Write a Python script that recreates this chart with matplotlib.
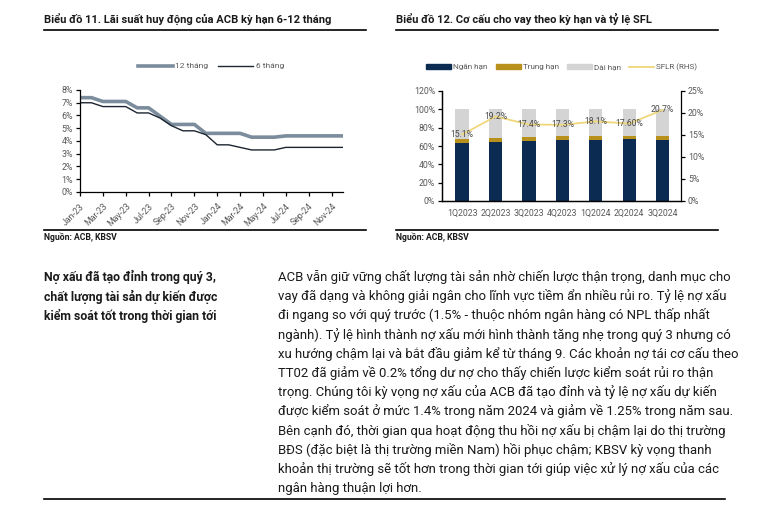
import matplotlib
matplotlib.use('Agg')
import matplotlib.pyplot as plt
from matplotlib.lines import Line2D
from matplotlib.patches import Patch

plt.rcParams['font.family'] = ['Roboto', 'DejaVu Sans']

W, H = 759, 507

# ---- data: chart 11 (monthly deposit rates, %)
months = ['Jan-23', 'Feb-23', 'Mar-23', 'Apr-23', 'May-23', 'Jun-23', 'Jul-23', 'Aug-23',
          'Sep-23', 'Oct-23', 'Nov-23', 'Dec-23', 'Jan-24', 'Feb-24', 'Mar-24', 'Apr-24',
          'May-24', 'Jun-24', 'Jul-24', 'Aug-24', 'Sep-24', 'Oct-24', 'Nov-24', 'Dec-24']
rate_12m = [7.4, 7.4, 7.1, 7.1, 7.1, 6.6, 6.6, 5.95, 5.3, 5.3, 5.3, 4.6,
            4.6, 4.6, 4.6, 4.3, 4.3, 4.3, 4.4, 4.4, 4.4, 4.4, 4.4, 4.4]
rate_6m = [7.0, 7.0, 6.7, 6.7, 6.7, 6.2, 6.2, 5.8, 5.2, 4.8, 4.8, 4.5,
           3.7, 3.7, 3.5, 3.3, 3.3, 3.3, 3.5, 3.5, 3.5, 3.5, 3.5, 3.5]

# ---- data: chart 12 (loan structure by term, % and SFLR)
quarters = ['1Q2023', '2Q2023', '3Q2023', '4Q2023', '1Q2024', '2Q2024', '3Q2024']
short_term = [63.5, 64.5, 65.0, 67.0, 67.0, 68.0, 67.0]
mid_term = [4.0, 4.5, 4.5, 3.5, 3.5, 3.3, 3.5]
long_term = [100 - s - m for s, m in zip(short_term, mid_term)]
sflr = [15.1, 19.2, 17.4, 17.3, 18.1, 17.6, 20.7]
sflr_labels = ['15.1%', '19.2%', '17.4%', '17.3%', '18.1%', '17.60%', '20.7%']

# ---- text
title11 = 'Biểu đồ 11. Lãi suất huy động của ACB kỳ hạn 6-12 tháng'
title12 = 'Biểu đồ 12. Cơ cấu cho vay theo kỳ hạn và tỷ lệ SFL'
source = 'Nguồn: ACB, KBSV'
heading = ['Nợ xấu đã tạo đỉnh trong quý 3,',
           'chất lượng tài sản dự kiến được',
           'kiểm soát tốt trong thời gian tới']
paragraph = [
    'ACB vẫn giữ vững chất lượng tài sản nhờ chiến lược thận trọng, danh mục cho',
    'vay đã dạng và không giải ngân cho lĩnh vực tiềm ẩn nhiều rủi ro. Tỷ lệ nợ xấu',
    'đi ngang so với quý trước (1.5% - thuộc nhóm ngân hàng có NPL thấp nhất',
    'ngành). Tỷ lệ hình thành nợ xấu mới hình thành tăng nhẹ trong quý 3 nhưng có',
    'xu hướng chậm lại và bắt đầu giảm kể từ tháng 9. Các khoản nợ tái cơ cấu theo',
    'TT02 đã giảm về 0.2% tổng dư nợ cho thấy chiến lược kiểm soát rủi ro thận',
    'trọng. Chúng tôi kỳ vọng nợ xấu của ACB đã tạo đỉnh và tỷ lệ nợ xấu dự kiến',
    'được kiểm soát ở mức 1.4% trong năm 2024 và giảm về 1.25% trong năm sau.',
    'Bên cạnh đó, thời gian qua hoạt động thu hồi nợ xấu bị chậm lại do thị trường',
    'BĐS (đặc biệt là thị trường miền Nam) hồi phục chậm; KBSV kỳ vọng thanh',
    'khoản thị trường sẽ tốt hơn trong thời gian tới giúp việc xử lý nợ xấu của các',
    'ngân hàng thuận lợi hơn.',
]

TICK = '#595959'
TXT = '#1a1a1a'


def fx(px):
    return px / W


def fy(py):
    return 1 - py / H


def hrule(fig, x0, x1, y, lw=1.2):
    fig.add_artist(Line2D([fx(x0), fx(x1)], [fy(y), fy(y)], transform=fig.transFigure,
                          color='black', lw=lw))


def axes_px(fig, left, top, right, bottom):
    return fig.add_axes([fx(left), fy(bottom), fx(right - left), (bottom - top) / H])


def fit(texts, ref, width_px):
    # shrink a group of texts so that the reference one spans width_px
    r = fig.canvas.get_renderer()
    w = ref.get_window_extent(r).width
    k = width_px / w
    for t in texts:
        t.set_fontsize(t.get_fontsize() * k)


fig = plt.figure(figsize=(W / 100, H / 100), dpi=100)
fig.patch.set_facecolor('white')

# ---- headers and rules
t11 = fig.text(fx(44), fy(19), title11, fontsize=10, fontweight='bold', color=TXT, va='center')
t12 = fig.text(fx(396), fy(19), title12, fontsize=10, fontweight='bold', color=TXT, va='center')
fit([t11], t11, 289)
fit([t12], t12, 256)
hrule(fig, 44, 366, 30)
hrule(fig, 396, 718, 30)
hrule(fig, 44, 366, 230)
hrule(fig, 396, 718, 230)
s1 = fig.text(fx(44), fy(237), source, fontsize=7.5, fontweight='bold', color=TXT, va='center')
s2 = fig.text(fx(396), fy(237), source, fontsize=7.5, fontweight='bold', color=TXT, va='center')
fit([s1, s2], s1, 73)

# ---- chart 11
ax = axes_px(fig, 80, 90, 343, 192)
x = list(range(len(months)))
ax.plot(x, rate_12m, color='#7b8d9c', lw=2.6, label='12 tháng')
ax.plot(x, rate_6m, color='#1c2530', lw=1.0, label='6 tháng')
ax.set_xlim(0, len(months) - 1)
ax.set_ylim(0, 8)
ax.set_yticks(range(0, 9))
ax.set_yticklabels(['%d%%' % v for v in range(0, 9)])
ax.set_xticks(x[::2])
ax.set_xticklabels(months[::2], rotation=45, ha='right', rotation_mode='anchor')
for s in ['top', 'right']:
    ax.spines[s].set_visible(False)
for s in ['left', 'bottom']:
    ax.spines[s].set_linewidth(0.9)
ax.tick_params(labelsize=6.3, labelcolor=TICK, length=3, width=0.9, pad=2)
ax.tick_params(axis='x', pad=4)
ax.legend(loc='center', bbox_to_anchor=(fx(211), fy(66)), bbox_transform=fig.transFigure,
          ncol=2, frameon=False, fontsize=6.0, labelcolor=TICK, handlelength=4.2,
          handletextpad=0.3, columnspacing=1.2)

# ---- chart 12
ax2 = axes_px(fig, 442, 91, 681, 201)
xq = list(range(len(quarters)))
bw = 0.4
ax2.bar(xq, short_term, bw, color='#0c2b52', label='Ngắn hạn')
ax2.bar(xq, mid_term, bw, bottom=short_term, color='#b8901c', label='Trung hạn')
bottoms = [s + m for s, m in zip(short_term, mid_term)]
ax2.bar(xq, long_term, bw, bottom=bottoms, color='#d4d4d4', label='Dài hạn')
ax2.set_xlim(-0.6, len(quarters) - 0.45)
ax2.set_ylim(0, 120)
ax2.set_yticks(range(0, 121, 20))
ax2.set_yticklabels(['%d%%' % v for v in range(0, 121, 20)])
ax2.set_xticks(xq)
ax2.set_xticklabels(quarters)
ax2.spines['top'].set_visible(False)
ax2.spines['right'].set_visible(False)
ax2.tick_params(labelsize=6.3, labelcolor=TICK, length=3, width=0.9, pad=2)
ax2.tick_params(axis='x', length=0, pad=6)

ax3 = ax2.twinx()
ax3.plot(xq, sflr, color='#f0d77a', lw=1.3, label='SFLR (RHS)')
for xi, v, lab in zip(xq, sflr, sflr_labels):
    ax3.text(xi, v, lab, fontsize=6.2, color='#4a4a4a', ha='center', va='center')
ax3.set_ylim(0, 25)
ax3.set_yticks(range(0, 26, 5))
ax3.set_yticklabels(['%d%%' % v for v in range(0, 26, 5)])
ax3.spines['top'].set_visible(False)
ax3.tick_params(labelsize=6.3, labelcolor=TICK, length=3, width=0.9, pad=2)
for a in (ax2, ax3):
    for s in a.spines.values():
        s.set_linewidth(0.9)

handles = [Patch(color='#0c2b52'), Patch(color='#b8901c'), Patch(color='#d4d4d4'),
           Line2D([], [], color='#f0d77a', lw=1.3)]
labels = ['Ngắn hạn', 'Trung hạn', 'Dài hạn', 'SFLR (RHS)']
fig.legend(handles, labels, loc='center', bbox_to_anchor=(fx(562), fy(67)),
           ncol=4, frameon=False, fontsize=5.9, labelcolor=TICK, handlelength=3.0,
           handleheight=0.5, handletextpad=0.3, columnspacing=1.0)

# ---- commentary block
head = [fig.text(fx(44), fy(277 + 19.5 * i), line, fontsize=10.5, fontweight='bold',
                 color=TXT, va='center') for i, line in enumerate(heading)]
fit(head, head[1], 175)
para = [fig.text(fx(278), fy(277 + 19.2 * i), line, fontsize=10.5, color=TXT, va='center')
        for i, line in enumerate(paragraph)]
fit(para, para[0], 455)
hrule(fig, 44, 725, 499)

fig.savefig('out.png', dpi=100, facecolor='white')
